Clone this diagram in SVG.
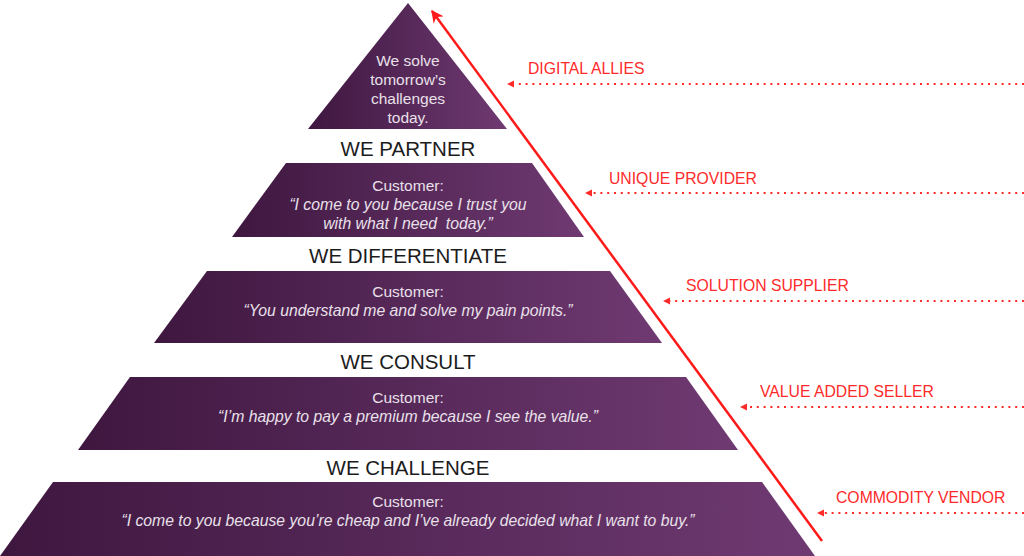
<svg xmlns="http://www.w3.org/2000/svg" width="1024" height="556" viewBox="0 0 1024 556">
  <defs>
    <linearGradient id="pg" x1="0" y1="0" x2="1" y2="0">
      <stop offset="0" stop-color="#3e173f"/>
      <stop offset="1" stop-color="#6f3a72"/>
    </linearGradient>
    <marker id="ah" viewBox="0 0 10 10" refX="9" refY="5" markerWidth="5" markerHeight="5" orient="auto" markerUnits="strokeWidth">
      <path d="M0,0 L10,5 L0,10 L3,5 z" fill="#ff1a1a"/>
    </marker>
    <style>
      .tier { fill: url(#pg); }
      .head { font-family: "Liberation Sans", Arial, sans-serif; font-size: 20.5px; fill: #1c1c1c; text-anchor: middle; }
      .body { font-family: "Liberation Sans", Arial, sans-serif; font-size: 15.5px; fill: #e9e0ea; text-anchor: middle; }
      .quote { font-style: italic; font-size: 15.75px; }
      .lbl { font-family: "Liberation Sans", Arial, sans-serif; font-size: 15.75px; fill: #ff2a2a; }
      .dot { stroke: #ff2a2a; stroke-width: 2; stroke-dasharray: 2 4.8; fill: none; }
    </style>
  </defs>

  <g id="tier-top">
    <polygon class="tier" points="408,3 507,129 308,129"/>
    <text class="body" x="408" y="66">We solve</text>
    <text class="body" x="408" y="85">tomorrow’s</text>
    <text class="body" x="408" y="104">challenges</text>
    <text class="body" x="408" y="123">today.</text>
  </g>

  <g id="tier-partner">
    <text class="head" x="408" y="156">WE PARTNER</text>
    <polygon class="tier" points="286,163 532,163 584,237 232,237"/>
    <text class="body" x="408" y="191">Customer:</text>
    <text class="body quote" x="408" y="210">“I come to you because I trust you</text>
    <text class="body quote" x="408" y="229" xml:space="preserve">with what I need  today.”</text>
  </g>

  <g id="tier-differentiate">
    <text class="head" x="408" y="263">WE DIFFERENTIATE</text>
    <polygon class="tier" points="207,271 610,271 662,343 154,343"/>
    <text class="body" x="408" y="297">Customer:</text>
    <text class="body quote" x="408" y="316">“You understand me and solve my pain points.”</text>
  </g>

  <g id="tier-consult">
    <text class="head" x="408" y="369">WE CONSULT</text>
    <polygon class="tier" points="130,377 686,377 738,450 78,450"/>
    <text class="body" x="408" y="403">Customer:</text>
    <text class="body quote" x="408" y="422">“I’m happy to pay a premium because I see the value.”</text>
  </g>

  <g id="tier-challenge">
    <text class="head" x="408" y="475">WE CHALLENGE</text>
    <polygon class="tier" points="53,482 762,482 815,556 0,556"/>
    <text class="body" x="408" y="507">Customer:</text>
    <text class="body quote" x="408" y="526">“I come to you because you’re cheap and I’ve already decided what I want to buy.”</text>
  </g>

  <g id="labels">
    <text class="lbl" x="528" y="74">DIGITAL ALLIES</text>
    <text class="lbl" x="609" y="184">UNIQUE PROVIDER</text>
    <text class="lbl" x="686" y="291">SOLUTION SUPPLIER</text>
    <text class="lbl" x="760" y="397">VALUE ADDED SELLER</text>
    <text class="lbl" x="836" y="503">COMMODITY VENDOR</text>
  </g>

  <g id="connectors">
    <line x1="822" y1="541" x2="432" y2="11" stroke="#ff1a1a" stroke-width="2.5" marker-end="url(#ah)"/>
    <line class="dot" x1="1024" y1="84" x2="513" y2="84"/>
    <polygon points="507,84 514,80.5 514,87.5" fill="#ff2a2a"/>
    <line class="dot" x1="1024" y1="193" x2="591" y2="193"/>
    <polygon points="585,193 592,189.5 592,196.5" fill="#ff2a2a"/>
    <line class="dot" x1="1024" y1="301" x2="669" y2="301"/>
    <polygon points="663,301 670,297.5 670,304.5" fill="#ff2a2a"/>
    <line class="dot" x1="1024" y1="407" x2="746" y2="407"/>
    <polygon points="740,407 747,403.5 747,410.5" fill="#ff2a2a"/>
    <line class="dot" x1="1024" y1="513" x2="823" y2="513"/>
    <polygon points="817,513 824,509.5 824,516.5" fill="#ff2a2a"/>
  </g>
</svg>
